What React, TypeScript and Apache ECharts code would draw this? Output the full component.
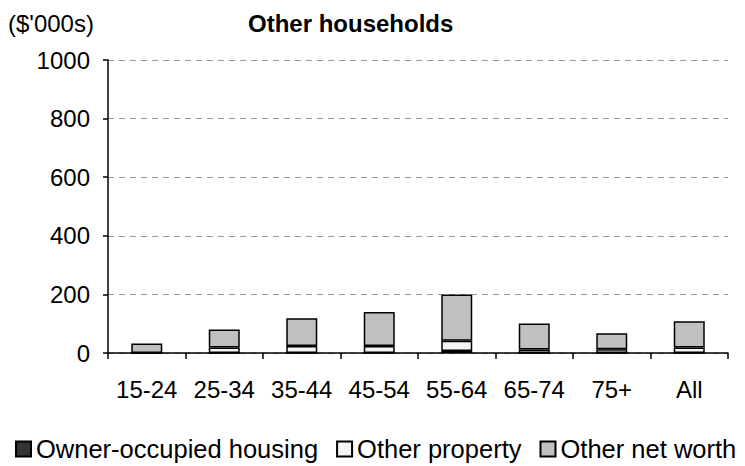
import React, { useEffect, useRef } from "react";
import * as echarts from "echarts";

const categories = ["15-24", "25-34", "35-44", "45-54", "55-64", "65-74", "75+", "All"];
const ownerOccupied = [0, 0, 0, 0, 7, 0, 0, 0];
const otherProperty = [0, 19, 24, 24, 35, 12, 13, 19];
const otherNetWorth = [32, 61, 95, 116, 158, 89, 54, 89];
const yTicks = [0, 200, 400, 600, 800, 1000];

const FONT = "'Liberation Sans', Arial, sans-serif";

export default function App() {
  const ref = useRef<HTMLDivElement>(null);
  useEffect(() => {
    if (!ref.current) return;
    const chart = echarts.init(ref.current, undefined, { renderer: "svg" });
    const barStyle = (color: string) => ({
      color,
      borderColor: "#000",
      borderWidth: 1.5,
    });
    chart.setOption({
      animation: false,
      backgroundColor: "#fff",
      textStyle: { fontFamily: FONT },
      title: {
        text: "Other households",
        left: 243,
        top: 6,
        textStyle: { fontFamily: FONT, fontSize: 24, fontWeight: "bold", color: "#000" },
      },
      graphic: [
        {
          type: "text",
          left: 8,
          top: 11,
          style: { text: "($'000s)", font: `24px ${FONT}`, fill: "#000" },
        },
      ],
      legend: {
        top: 436,
        left: 15,
        width: 730,
        padding: 0,
        itemWidth: 15,
        itemHeight: 15,
        itemGap: 18,
        icon: "rect",
        textStyle: { fontFamily: FONT, fontSize: 25.5, color: "#000" },
        data: ["Owner-occupied housing", "Other property", "Other net worth"],
      },
      grid: { left: 108, right: 17, top: 60, bottom: 113 },
      xAxis: {
        type: "category",
        data: categories,
        axisLine: { lineStyle: { color: "#000", width: 1.5 } },
        axisTick: { show: true, length: 6, lineStyle: { color: "#000", width: 1.5 } },
        axisLabel: { fontFamily: FONT, fontSize: 24, color: "#000", margin: 24, interval: 0 },
      },
      yAxis: {
        type: "value",
        min: yTicks[0],
        max: yTicks[yTicks.length - 1],
        interval: 200,
        axisLine: { show: true, lineStyle: { color: "#000", width: 1.5 } },
        axisTick: { show: true, length: 5, lineStyle: { color: "#000", width: 1.5 } },
        axisLabel: {
          fontFamily: FONT,
          fontSize: 24,
          color: "#000",
          margin: 18,
          formatter: (v: number) => String(v),
        },
        splitLine: { show: true, lineStyle: { color: "#999", type: [6, 5], width: 1 } },
      },
      series: [
        {
          name: "Owner-occupied housing",
          type: "bar",
          stack: "a",
          barWidth: 31,
          data: ownerOccupied,
          itemStyle: barStyle("#333333"),
        },
        {
          name: "Other property",
          type: "bar",
          stack: "a",
          barWidth: 31,
          data: otherProperty,
          itemStyle: barStyle("#f5f5f5"),
        },
        {
          name: "Other net worth",
          type: "bar",
          stack: "a",
          barWidth: 31,
          data: otherNetWorth,
          itemStyle: barStyle("#c0c0c0"),
        },
      ],
    });
    return () => chart.dispose();
  }, []);
  return <div ref={ref} style={{ width: 745, height: 466, position: "absolute", left: 0, top: 0 }} />;
}
